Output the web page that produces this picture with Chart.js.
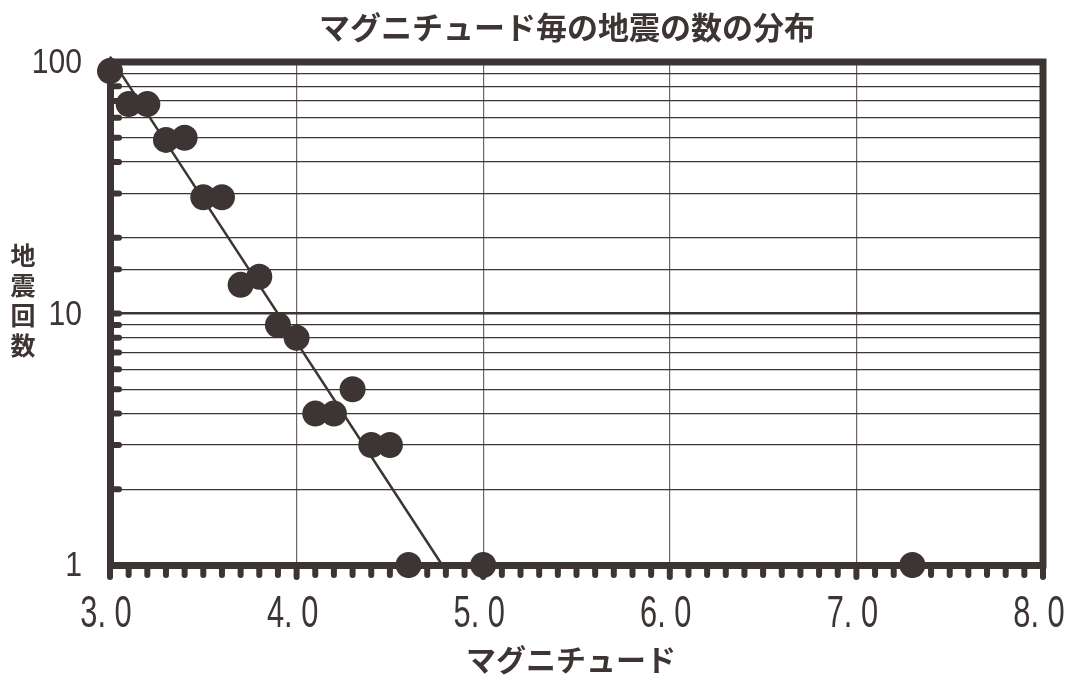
<!DOCTYPE html>
<html>
<head>
<meta charset="utf-8">
<script src="https://cdn.jsdelivr.net/npm/chart.js@4/dist/chart.umd.min.js"></script>
<style>
  html, body { margin: 0; padding: 0; background: #ffffff; }
  #wrap { width: 1065px; height: 684px; }
</style>
</head>
<body>
<div id="wrap"><canvas id="c" width="1065" height="684"></canvas></div>
<script>
// Observed earthquakes: magnitude and number of events
const magnitudes = [3.0, 3.1, 3.2, 3.3, 3.4, 3.5, 3.6, 3.7, 3.8, 3.9, 4.0, 4.1, 4.2, 4.3, 4.4, 4.5, 4.6, 5.0, 7.3];
const counts     = [92,  68,  68,  49,  50,  29,  29,  13,  14,  9,   8,   4,   4,   5,   3,   3,   1,   1,   1];

// Fitted straight line (log scale): its two end points
const fitMagnitudes = [3.0, 4.78];
const fitCounts     = [105, 1];

// Axis ranges and labelled ticks
const xRange = [3.0, 8.0];
const yRange = [1, 100];
const yLabelled = [1, 10, 100];

const titleText  = 'マグニチュード毎の地震の数の分布';
const xTitleText = 'マグニチュード';
const yTitleText = '地震回数';

const INK = '#3d3533';
const NUM_FONT = '"Liberation Sans", Arial, sans-serif';
const JP_FONT = '"Noto Sans CJK JP", "Noto Sans", sans-serif';

const isWhole = v => Math.abs(v - Math.round(v)) < 1e-6;
const fmtX = v => v.toFixed(1).replace('.', '. ');

// Draws condensed text: squeezes glyphs horizontally around the anchor
function narrowText(ctx, text, x, y, sx, align) {
  ctx.save();
  ctx.translate(x, y);
  ctx.scale(sx, 1);
  ctx.textAlign = align;
  ctx.fillText(text, 0, 0);
  ctx.restore();
}

// Frame, rounded tick bumps, tick labels and titles
const framePlugin = {
  id: 'frame',
  beforeDatasetsDraw(chart) {
    const { ctx, chartArea: a, scales: { x, y } } = chart;
    ctx.save();
    ctx.strokeStyle = INK;
    ctx.lineCap = 'square';
    ctx.lineWidth = 7;
    ctx.beginPath();
    ctx.moveTo(a.left, a.top);
    ctx.lineTo(a.right, a.top);
    ctx.lineTo(a.right, a.bottom);
    ctx.stroke();

    ctx.lineCap = 'round';
    ctx.lineWidth = 6;
    x.ticks.forEach(t => {
      const px = x.getPixelForValue(t.value);
      const len = isWhole(t.value) ? 12 : 10;
      ctx.beginPath();
      ctx.moveTo(px, a.bottom);
      ctx.lineTo(px, a.bottom + len);
      ctx.stroke();
    });
    y.ticks.forEach(t => {
      if (t.value <= yRange[0] || t.value >= yRange[1]) return;
      const py = y.getPixelForValue(t.value);
      ctx.beginPath();
      ctx.moveTo(a.left, py);
      ctx.lineTo(a.left + 9, py);
      ctx.stroke();
    });

    // tick labels
    ctx.fillStyle = INK;
    ctx.textBaseline = 'alphabetic';
    ctx.font = '44px ' + NUM_FONT;
    x.ticks.forEach(t => {
      if (!isWhole(t.value)) return;
      narrowText(ctx, fmtX(t.value), x.getPixelForValue(t.value) - 4, a.bottom + 62, 0.7, 'center');
    });
    ctx.font = '35px ' + NUM_FONT;
    yLabelled.forEach(v => {
      narrowText(ctx, String(v), 82, y.getPixelForValue(v) + 11, 0.86, 'right');
    });
    ctx.restore();
  },
  afterDraw(chart) {
    const { ctx } = chart;
    ctx.save();
    ctx.fillStyle = INK;
    ctx.textAlign = 'center';
    ctx.textBaseline = 'middle';
    ctx.font = 'bold 31px ' + JP_FONT;
    ctx.fillText(titleText, 567, 27);
    ctx.font = 'bold 30px ' + JP_FONT;
    ctx.fillText(xTitleText, 571, 660);
    ctx.font = 'bold 25px ' + JP_FONT;
    [...yTitleText].forEach((ch, i) => ctx.fillText(ch, 23, 255 + i * 30));
    ctx.restore();
  }
};

new Chart(document.getElementById('c'), {
  type: 'scatter',
  data: {
    datasets: [
      {
        label: '地震回数',
        data: magnitudes.map((m, i) => ({ x: m, y: counts[i] })),
        pointRadius: 13,
        pointHoverRadius: 13,
        backgroundColor: INK,
        borderColor: INK,
        borderWidth: 0,
        clip: false,
        order: 1
      },
      {
        label: 'fit',
        data: fitMagnitudes.map((m, i) => ({ x: m, y: fitCounts[i] })),
        showLine: true,
        pointRadius: 0,
        borderColor: INK,
        borderWidth: 2.5,
        clip: false,
        order: 2
      }
    ]
  },
  options: {
    responsive: false,
    animation: false,
    events: [],
    layout: { padding: { left: 0, right: 22, top: 62, bottom: 0 } },
    plugins: {
      legend: { display: false },
      tooltip: { enabled: false },
      title: { display: false }
    },
    scales: {
      x: {
        type: 'linear',
        min: xRange[0],
        max: xRange[1],
        afterFit(scale) { scale.height = 119; },
        ticks: { display: false, stepSize: 0.1, autoSkip: false },
        grid: {
          drawTicks: false,
          color: ctx => (ctx.tick && isWhole(ctx.tick.value)) ? '#6d6663' : 'rgba(0,0,0,0)',
          lineWidth: 1.2
        },
        border: { color: INK, width: 7 }
      },
      y: {
        type: 'logarithmic',
        min: yRange[0],
        max: yRange[1],
        afterFit(scale) { scale.width = 110; },
        ticks: { display: false, autoSkip: false },
        grid: {
          drawTicks: false,
          color: INK,
          lineWidth: ctx => (ctx.tick && ctx.tick.value === 10) ? 2.6 : 1.3
        },
        border: { color: INK, width: 7 }
      }
    }
  },
  plugins: [framePlugin]
});
</script>
</body>
</html>
